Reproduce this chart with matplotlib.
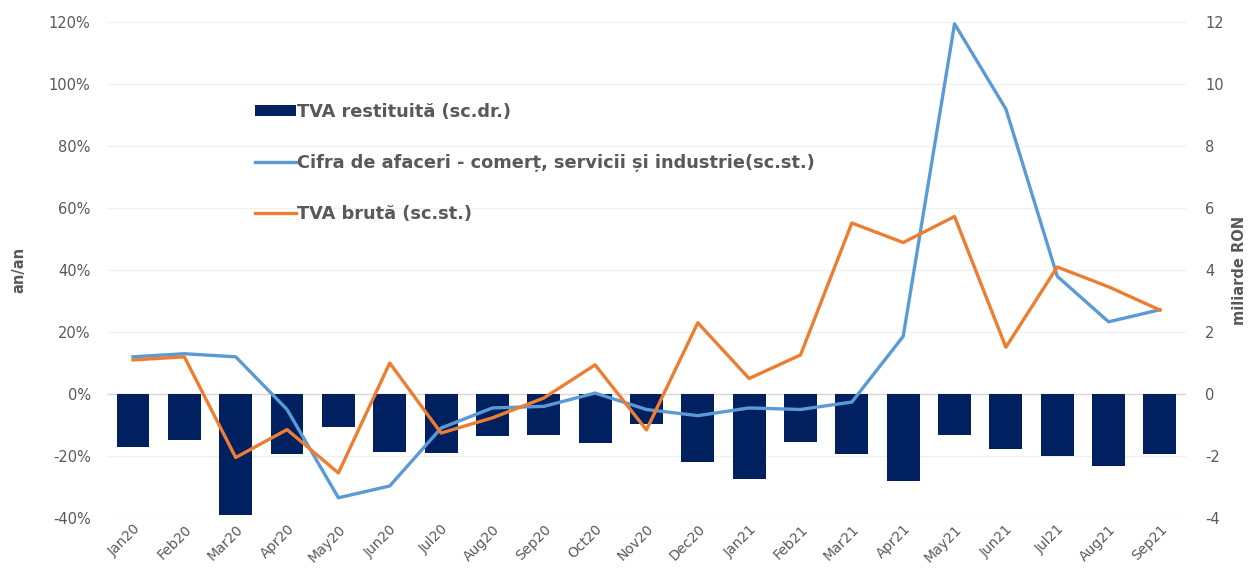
import numpy as np
import matplotlib
matplotlib.use("Agg")
import matplotlib.pyplot as plt
from matplotlib.ticker import FuncFormatter

plt.rcParams["axes.unicode_minus"] = False

months = ["Jan20", "Feb20", "Mar20", "Apr20", "May20", "Jun20", "Jul20",
          "Aug20", "Sep20", "Oct20", "Nov20", "Dec20", "Jan21", "Feb21",
          "Mar21", "Apr21", "May21", "Jun21", "Jul21", "Aug21", "Sep21"]

# TVA restituita, miliarde RON (right axis)
tva_restituita = [-1.71, -1.47, -3.90, -1.94, -1.08, -1.87, -1.90,
                  -1.37, -1.33, -1.58, -0.96, -2.19, -2.73, -1.56,
                  -1.95, -2.82, -1.32, -1.77, -1.99, -2.32, -1.93]

# Cifra de afaceri, % an/an (left axis)
cifra_afaceri = [12.0, 13.0, 12.0, -5.0, -33.5, -29.7, -11.0,
                 -4.5, -4.0, 0.3, -5.0, -7.0, -4.5, -5.0,
                 -2.6, 18.6, 119.5, 92.0, 38.0, 23.3, 27.2]

# TVA bruta, % an/an (left axis)
tva_bruta = [11.0, 12.0, -20.5, -11.5, -25.5, 10.0, -12.6,
             -7.7, -1.3, 9.4, -11.6, 23.0, 5.0, 12.6,
             55.2, 48.9, 57.3, 15.1, 41.0, 34.6, 27.1]

grey = "#595959"
x = np.arange(len(months))

fig = plt.figure(figsize=(12.48, 5.71), dpi=100)
ax = fig.add_axes([0.086, 0.093, 0.864, 0.868])
ax2 = ax.twinx()

# bars on the right axis, lines on top on the left axis
bars = ax2.bar(x, tva_restituita, width=0.64, color="#002060", zorder=2)
ax2.set_ylim(-4, 12)
ax2.set_yticks(np.arange(-4, 13, 2))
ax2.grid(axis="y", color="#f0f0f0", linewidth=1)
ax2.set_axisbelow(True)
ax2.axhline(0, color="#d9d9d9", linewidth=1, zorder=1)

ax.set_zorder(ax2.get_zorder() + 1)
ax.patch.set_visible(False)
l1, = ax.plot(x, cifra_afaceri, color="#5B9BD5", linewidth=2.4,
              solid_joinstyle="round")
l2, = ax.plot(x, tva_bruta, color="#ED7D31", linewidth=2.4,
              solid_joinstyle="round")
ax.set_ylim(-40, 120)
ax.set_yticks(np.arange(-40, 121, 20))
ax.yaxis.set_major_formatter(FuncFormatter(lambda v, p: f"{v:.0f}%"))
ax.set_xlim(-0.5, len(months) - 0.5)
ax.set_xticks(x)
ax.set_xticklabels(months, rotation=45, ha="right", rotation_mode="anchor")

for a in (ax, ax2):
    for s in a.spines.values():
        s.set_visible(False)
    a.tick_params(axis="both", length=0, colors=grey, labelsize=10.5)
ax.tick_params(axis="x", pad=3, labelsize=10)
ax.tick_params(axis="y", pad=12)
ax2.tick_params(axis="y", pad=14)

ax.set_ylabel("an/an", color=grey, fontweight="bold", fontsize=10.5,
              labelpad=16)
ax2.set_ylabel("miliarde RON", color=grey, fontweight="bold", fontsize=10.5,
               labelpad=6)

leg = fig.legend([bars, l1, l2],
                 ["TVA restituită (sc.dr.)",
                  "Cifra de afaceri - comerț, servicii și industrie(sc.st.)",
                  "TVA brută (sc.st.)"],
                 loc="upper left", bbox_to_anchor=(0.197, 0.835),
                 frameon=False, fontsize=12.8, labelspacing=1.85,
                 handlelength=2.3, handleheight=0.6, handletextpad=0.1,
                 borderpad=0)
for t in leg.get_texts():
    t.set_color(grey)
    t.set_fontweight("bold")

fig.savefig("out.png", dpi=100)
